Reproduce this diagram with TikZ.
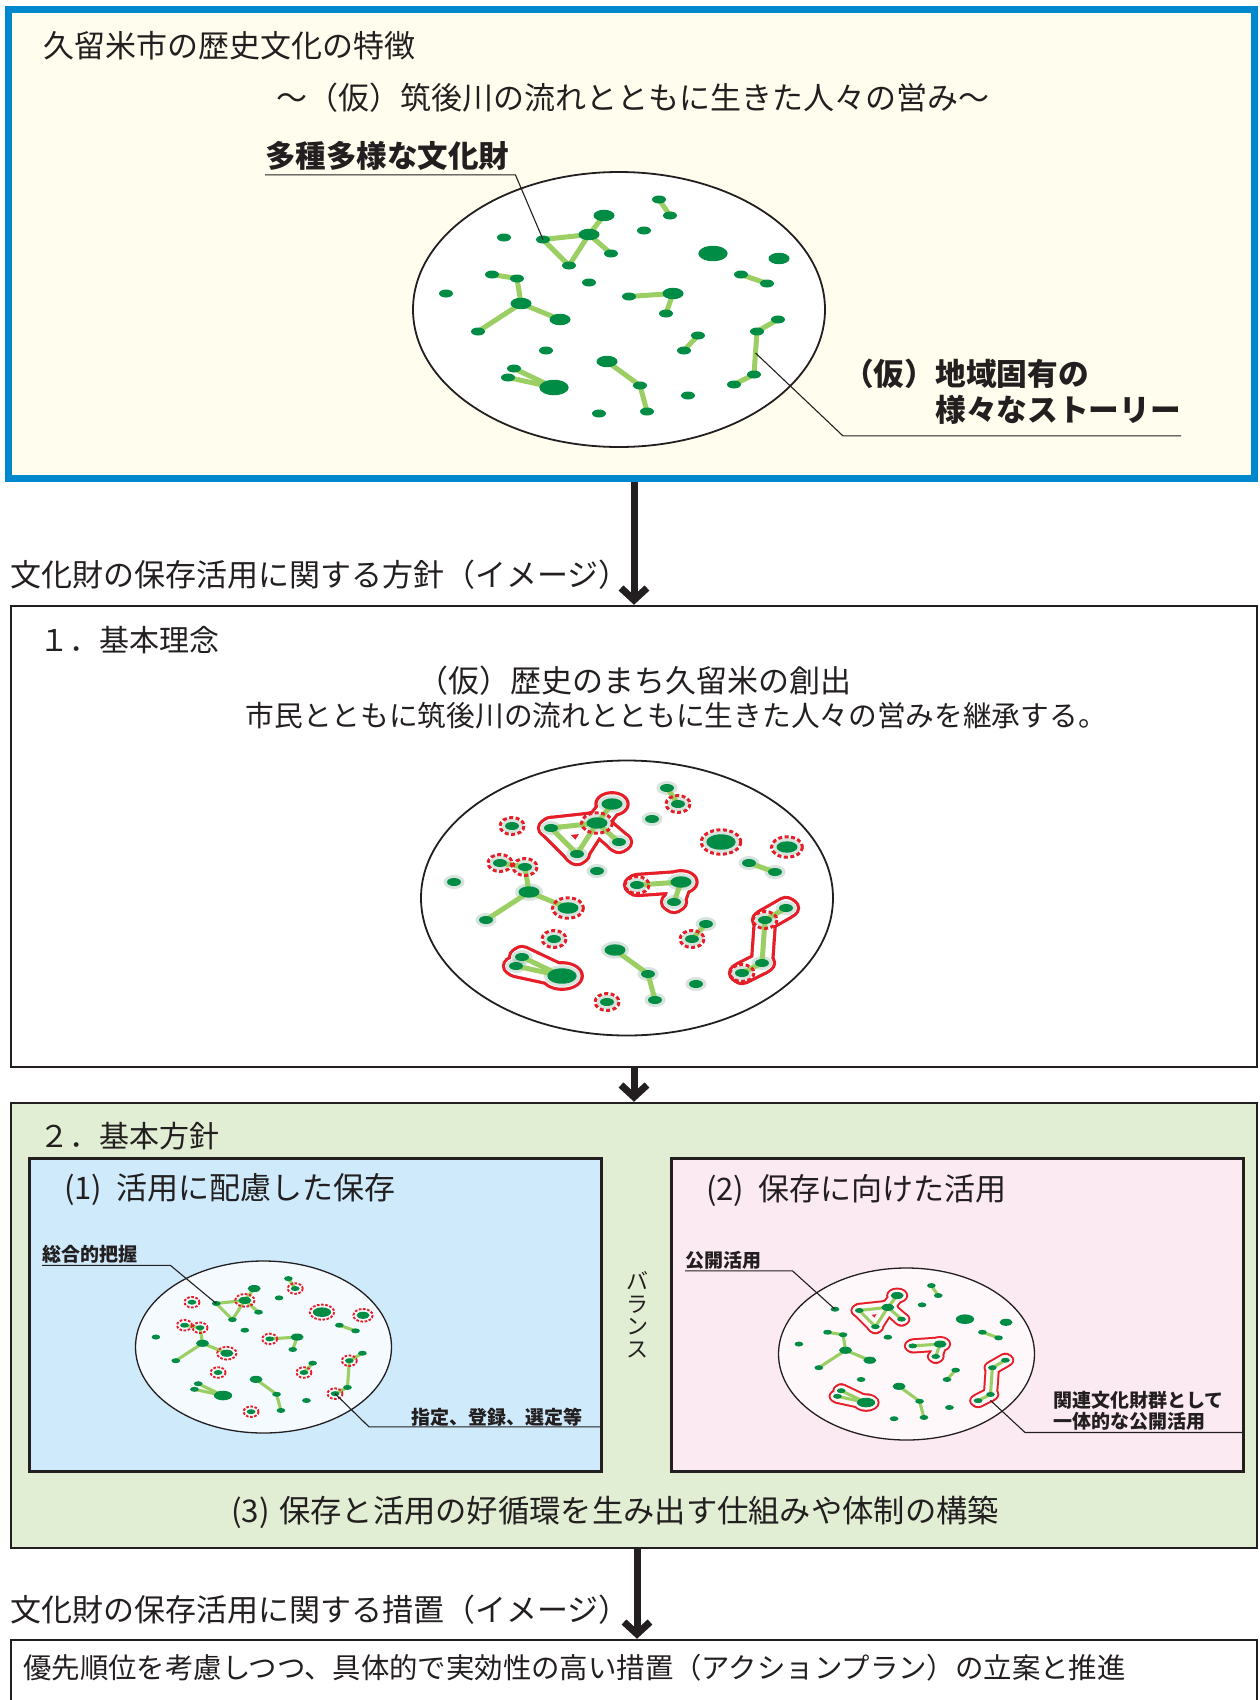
\documentclass[tikz,border=0pt]{standalone}
\usepackage{fontspec}
\setmainfont{Noto Sans CJK JP}
\usetikzlibrary{arrows.meta,positioning,shapes.geometric,calc}

\definecolor{ink}{RGB}{35,31,32}
\definecolor{rim}{RGB}{0,136,206}
\definecolor{cream}{RGB}{255,253,238}
\definecolor{sage}{RGB}{226,238,212}
\definecolor{sky}{RGB}{207,234,251}
\definecolor{blush}{RGB}{252,234,242}
\definecolor{skyfield}{RGB}{245,250,254}
\definecolor{blushfield}{RGB}{255,248,251}
\definecolor{dotgreen}{RGB}{0,140,68}
\definecolor{linkgreen}{RGB}{155,207,100}
\definecolor{hullred}{RGB}{230,30,40}

% cultural properties: number/x radius/y radius
\newcommand{\starlist}{1/7/4, 2/7/4, 3/10.5/5.7, 4/10.5/5.7, 5/7/4, 6/7/4, 7/7/4, 8/7/4, 9/7/4, 10/14.7/7.7,
  11/10.5/5.7, 12/7/4, 13/7/4, 14/7/4, 15/7/4, 16/10.5/5.7, 17/10.5/5.7, 18/7/4, 19/7/4, 20/7/4,
  21/7/4, 22/10.5/5.7, 23/7/4, 24/7/4, 25/7/4, 26/7/4, 27/7/4, 28/7/4, 29/7/4, 30/7/4,
  31/7/4, 32/7/4, 33/14.7/7.7, 34/10.5/5.7, 35/7/4, 36/7/4, 37/7/4, 38/7/4}
\newcommand{\starlinks}{1/2, 3/4, 4/5, 5/6, 6/4, 4/7, 12/13, 14/15, 15/16, 16/17, 16/18,
  21/22, 22/23, 24/25, 25/26, 26/27, 28/29, 31/33, 32/33, 34/35, 35/36}
\newcommand{\fieldk}{1}

% positions relative to the centre of a field (y downwards)
\newcommand{\placestars}{%
  \foreach \n/\x/\y in {1/40/-110, 2/51/-94, 3/-15/-94, 4/-30/-75, 5/-76/-70, 6/-50/-44, 7/-8/-56,
    8/-115/-72, 9/25/-79, 10/94/-56, 11/160/-51, 12/122/-35, 13/148/-26, 14/-127/-35,
    15/-102/-31, 16/-98/-6, 17/-59/10, 18/-141/22, 19/-173/-16, 20/-30/-27, 21/10/-13,
    22/54/-16, 23/47/4, 24/159/10, 25/138/22, 26/135/65, 27/115/75, 28/79/26, 29/65/41,
    30/-73/41, 31/-105/59, 32/-111/68, 33/-65/78, 34/-12/52, 35/21/76, 36/28/102,
    37/69/86, 38/-20/104}
    {\coordinate (d\n) at (\x,\y);}%
}
\newcommand{\drawstars}{%
  \foreach \a/\b in \starlinks {\draw[link] (d\a) -- (d\b);}%
  \foreach \n/\rx/\ry in \starlist {\fill[dot] (d\n) ellipse [x radius=\rx, y radius=\ry];}%
}
% band round the related groups: colour, half width, margin round the dots
\newcommand{\hull}[3]{%
  \foreach \a/\b in {3/4, 4/5, 5/6, 6/4, 4/7, 21/22, 22/23, 24/25, 25/26, 26/27, 31/33, 32/33}
    {\draw[#1, line width=2*#2*\fieldk*1pt, line cap=round] (d\a) -- (d\b);}%
  \foreach \n/\rx/\ry in {3/10.5/5.7, 4/10.5/5.7, 5/7/4, 6/7/4, 7/7/4, 21/7/4, 22/10.5/5.7, 23/7/4,
    24/7/4, 25/7/4, 26/7/4, 27/7/4, 31/7/4, 32/7/4, 33/14.7/7.7}
    {\fill[#1] (d\n) ellipse [x radius=\rx+#3, y radius=\ry+#3];}%
}
\newcommand{\rings}{%
  \foreach \n/\rx/\ry in {2/7/4, 4/10.5/5.7, 8/7/4, 10/14.7/7.7, 11/10.5/5.7, 14/7/4, 15/7/4,
    17/10.5/5.7, 21/7/4, 25/7/4, 27/7/4, 29/7/4, 30/7/4, 38/7/4}
    {\draw[ring] (d\n) ellipse [x radius=\rx+5, y radius=\ry+4.5];}%
}
\newcommand{\haze}{%
  \foreach \n/\rx/\ry in \starlist
    {\fill[dotgreen!45!gray, opacity=.22] (d\n) ellipse [x radius=\rx+3.5, y radius=\ry+3];}%
}

\begin{document}
\begin{tikzpicture}[x=1pt, y=-1pt, >={Straight Barb[length=12pt,width=26pt]},
  box/.style={draw=ink, line width=2.5pt, minimum width=1246pt, inner sep=0, anchor=north west},
  panel/.style={draw=ink, line width=3pt, minimum width=572pt, minimum height=313.5pt, inner sep=0},
  flow/.style={->, draw=ink, line width=7pt},
  head/.style={font=\fontsize{31}{37}\selectfont, text=ink, inner sep=0, anchor=west},
  note/.style={font=\fontsize{19}{21}\selectfont\bfseries, text=ink, inner sep=0, anchor=west, align=left},
  leader/.style={draw=ink, line width=1.1pt},
  field/.style={ellipse, draw=ink, line width=1.8pt, fill=white, minimum width=412pt, minimum height=275pt, inner sep=0},
  small field/.style={field, line width=1.3pt, minimum width=256pt, minimum height=172pt},
  link/.style={draw=linkgreen, line width=\fieldk*5pt, line cap=round},
  dot/.style={fill=dotgreen},
  ring/.style={draw=hullred, line width=3pt, dash pattern=on 4pt off 2.5pt}]
\useasboundingbox (0,0) rectangle (1260,1700);

% features of the city
\node[draw=rim, line width=7pt, fill=cream, minimum width=1246.5pt, minimum height=469pt,
  inner sep=0, anchor=north west] (feature) at (4.5,6) {};
\node[head] (title) at (43,46) {久留米市の歴史文化の特徴};
\node[head, anchor=center] (theme) at (633,98) {～（仮）筑後川の流れとともに生きた人々の営み～};
\node[field] (fieldA) at (619,309.5) {};
\begin{scope}[shift={(fieldA.center)}, name prefix=a-]
  \placestars
  \drawstars
\end{scope}
\node[head, font=\fontsize{30.5}{36}\selectfont\bfseries, inner ysep=4pt] (kinds) at (265,156) {多種多様な文化財};
\node[head, font=\fontsize{30.7}{36}\selectfont\bfseries, align=left, inner ysep=11pt] (story) at (843,392)
  {（仮）地域固有の\\\hspace*{3em}様々なストーリー};
\draw[leader] (a-d5) -- ([xshift=6pt]kinds.south east) -- (kinds.south west);
\draw[leader] ($(a-d25)!.5!(a-d26)$) -- (story.south west) -- (story.south east);

% 1. basic idea
\node[head] (policyhead) at (10,575) {文化財の保存活用に関する方針（イメージ）};
\node[box, minimum height=461pt] (policy) at (9.75,604.75) {};
\draw[flow] (feature.south -| policy.north) -- (policy.north);
\node[head, font=\fontsize{30}{36}\selectfont] (idea) at (39,640) {１．基本理念};
\node[head, anchor=center] (slogan) at (634,681) {（仮）歴史のまち久留米の創出};
\node[head, font=\fontsize{28.7}{34}\selectfont] (creed) at (245.5,716)
  {市民とともに筑後川の流れとともに生きた人々の営みを継承する。};
\node[field] (fieldB) at (627,898) {};
\begin{scope}[shift={(fieldB.center)}, name prefix=b-]
  \placestars
  \hull{hullred}{12.2}{7.2}
  \hull{white}{9}{4}
  \haze
  \drawstars
  \rings
\end{scope}

% 2. basic policy
\node[box, fill=sage, minimum height=445pt] (basic) at (9.75,1101.75) {};
\draw[flow] (policy.south) -- (basic.north);
\node[head, font=\fontsize{30}{36}\selectfont] (course) at (39,1136) {２．基本方針};
\node[panel, fill=sky, anchor=north west] (conserve) at (27.5,1156.5) {};
\node[panel, fill=blush, right=67pt of conserve] (utilise) {};
\node[head] (conservehead) at (64,1190) {(1)\hspace{.45em}活用に配慮した保存};
\node[head] (utilisehead) at (706,1190) {(2)\hspace{.45em}保存に向けた活用};
\node[font=\fontsize{22}{22.5}\selectfont, text=ink, align=center, inner sep=0] (balance) at (637,1315) {バ\\ラ\\ン\\ス};

\node[small field, fill=skyfield] (fieldC) at (263.5,1347) {};
\begin{scope}[shift={(fieldC.center)}, scale=.622, name prefix=c-,
    ring/.style={draw=hullred, line width=1.9pt, dash pattern=on 2.6pt off 1.6pt}]
  \renewcommand{\fieldk}{.622}
  \placestars
  \drawstars
  \rings
\end{scope}
\node[note, inner ysep=1.5pt] (grasp) at (42,1254.6) {総合的把握};
\draw[leader] (c-d5) -- ([xshift=33pt]grasp.south east) -- (grasp.south west);
\node[note, inner ysep=.5pt] (desig) at (411,1417) {指定、登録、選定等};
\draw[leader] (c-d27) -- ([xshift=-42pt]desig.south west) -- (desig.south -| conserve.east);

\node[small field, fill=blushfield] (fieldD) at (906.5,1354) {};
\begin{scope}[shift={(fieldD.center)}, scale=.622, name prefix=d-]
  \renewcommand{\fieldk}{.622}
  \placestars
  \hull{hullred}{12.2}{7.2}
  \hull{blushfield}{9}{4}
  \drawstars
\end{scope}
\node[note, inner ysep=1.5pt] (opening) at (685,1260) {公開活用};
\draw[leader] (d-d8) -- ([xshift=31pt]opening.south east) -- (opening.south west);
\node[note, inner ysep=1.4pt] (cluster) at (1053,1411.25) {関連文化財群として\\一体的な公開活用};
\draw[leader] ([yshift=-6pt]d-d26) -- ([xshift=-28pt]cluster.south west) -- (cluster.south -| utilise.east);

\node[head, font=\fontsize{31.3}{38}\selectfont] (cycle) at (231,1512.6)
  {(3)\hspace{.3em}保存と活用の好循環を生み出す仕組みや体制の構築};

% measures
\node[head] (measurehead) at (10,1610) {文化財の保存活用に関する措置（イメージ）};
\node[box, minimum height=63pt] (measure) at (9.75,1638.75) {};
\draw[flow] ([xshift=3pt]basic.south) -- ([xshift=3pt]measure.north);
\node[head, font=\fontsize{28.4}{34}\selectfont] (plan) at (23,1668)
  {優先順位を考慮しつつ、具体的で実効性の高い措置（アクションプラン）の立案と推進};
\end{tikzpicture}
\end{document}
